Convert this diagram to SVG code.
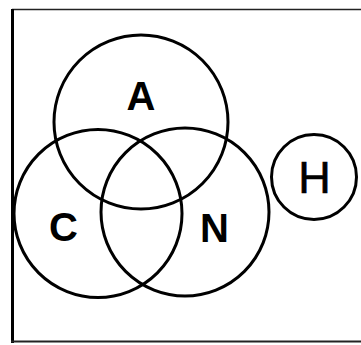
<svg xmlns="http://www.w3.org/2000/svg" width="361" height="345" viewBox="0 0 361 345">
<style>
.c{fill:none;stroke:#000;stroke-width:3}
.t{font-family:"Liberation Sans",Arial,sans-serif;font-weight:bold;font-size:40px;text-anchor:middle;fill:#000}
.h{font-weight:normal;font-size:45px;stroke:#000;stroke-width:0.6}
</style>
<rect width="361" height="345" fill="#fff"/>
<g id="frame">
<line x1="12" y1="9.5" x2="361" y2="9.5" stroke="#222" stroke-width="1.5"/>
<line x1="12.5" y1="9" x2="12.5" y2="343" stroke="#000" stroke-width="3"/>
<line x1="11" y1="341.5" x2="361" y2="341.5" stroke="#222" stroke-width="2"/>
</g>
<g id="A"><circle class="c" cx="141" cy="122" r="87"/><text class="t" x="141" y="109.5">A</text></g>
<g id="C"><circle class="c" cx="98" cy="213.5" r="84"/><text class="t" x="63.5" y="240.5">C</text></g>
<g id="N"><circle class="c" cx="185" cy="212" r="84"/><text class="t" x="214.5" y="241.5">N</text></g>
<g id="H"><circle class="c" cx="314" cy="177" r="42.5"/><text class="t h" x="314.5" y="192.5">H</text></g>
<g id="connectors"/>
</svg>
